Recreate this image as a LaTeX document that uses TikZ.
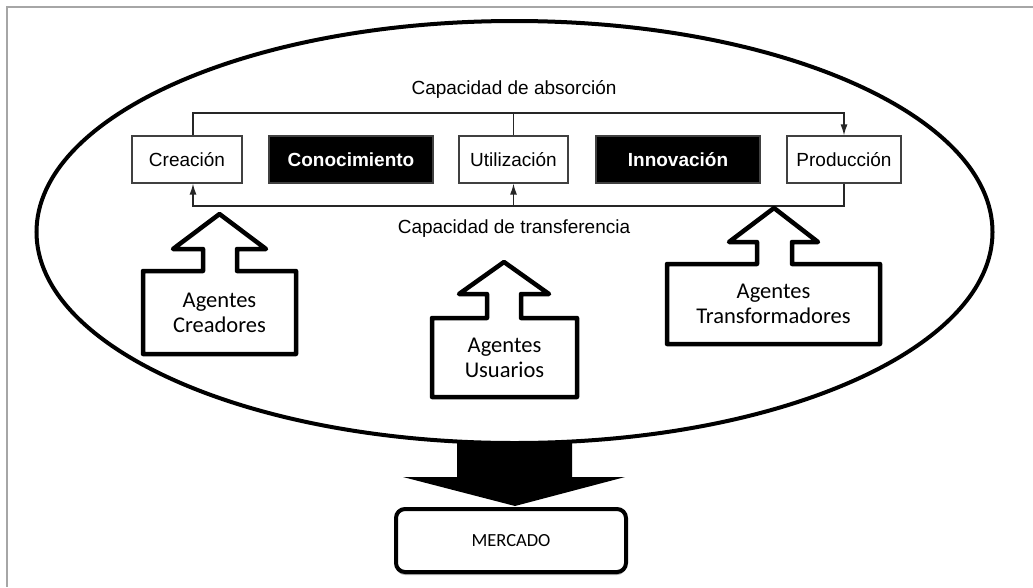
\documentclass[tikz,border=0pt]{standalone}
\usepackage{fontspec}
\setmainfont{Liberation Sans}
\newfontfamily\calib{Carlito}
\usetikzlibrary{arrows.meta,shadows}
\begin{document}
\begin{tikzpicture}[x=1pt,y=-1pt,
  frameline/.style={draw=gray!70,line width=1.5pt},
  stagebox/.style={draw=black!75,line width=1.2pt,fill=white,minimum height=47pt,inner sep=0pt,font=\fontsize{19}{22}\selectfont},
  darkbox/.style={draw=black!75,line width=1.2pt,fill=black,text=white,minimum height=47pt,inner sep=0pt,font=\fontsize{19}{22}\selectfont\bfseries},
  conn/.style={draw=black!85,line width=1.4pt},
  tip/.style={-{Latex[length=11pt,width=7pt]}},
  caplabel/.style={font=\fontsize{19}{22}\selectfont},
  blockarrow/.style={draw=black,line width=4.5pt,line join=round,fill=white},
  agenttext/.style={font=\calib\fontsize{22.5}{25}\selectfont,align=center},
]
\useasboundingbox (0,0) rectangle (1033,587);
\fill[white] (0,0) rectangle (1033,587);
% frame (top and left edges)
\draw[frameline] (1033,7) -- (7,7) -- (7,587);

% big down arrow to market
\fill[black] (457,440) -- (572,440) -- (572,477) -- (625,477) -- (515,506) -- (403,477) -- (457,477) -- cycle;

% ellipse
\draw[line width=4pt,fill=white] (514.5,232) ellipse [x radius=478pt, y radius=211pt];

% stage boxes
\node[stagebox,minimum width=110pt] (cre) at (187,159.5) {Creación};
\node[darkbox,minimum width=164pt] (con) at (351,159.5) {Conocimiento};
\node[stagebox,minimum width=109pt] (uti) at (513.5,159.5) {Utilización};
\node[darkbox,minimum width=164pt] (inn) at (678,159.5) {Innovación};
\node[stagebox,minimum width=114pt] (pro) at (844,159.5) {Producción};

% absorption loop
\coordinate (ta) at (193,113);
\coordinate (ba) at (193,206);
\draw[conn,tip] (cre.north -| ta) -- (ta) -| (pro.north);
\draw[conn] (uti.north) -- (uti.north |- ta);
\node[caplabel] (abs) at (514,89) {Capacidad de absorción};

% transfer loop
\draw[conn,tip] (pro.south) |- (ba) -- (cre.south -| ba);
\draw[conn,tip] (uti.south |- ba) -- (uti.south);
\node[caplabel] (tra) at (514,229) {Capacidad de transferencia};

% block arrows with agents
\draw[blockarrow] (143,271) -- (203,271) -- (203,249) -- (173,249) -- (219.5,214) -- (266,249) -- (237,249) -- (237,271) -- (296,271) -- (296,354) -- (143,354) -- cycle;
\node[agenttext] (acre) at (219.5,313) {Agentes\\Creadores};

\draw[blockarrow] (432,318) -- (487,318) -- (487,294) -- (459,294) -- (504,262) -- (549,294) -- (521,294) -- (521,318) -- (577,318) -- (577,397) -- (432,397) -- cycle;
\node[agenttext] (ausu) at (504.5,358) {Agentes\\Usuarios};

\draw[blockarrow] (667,264) -- (757,264) -- (757,242) -- (729,242) -- (774,208) -- (818,242) -- (792,242) -- (792,264) -- (880,264) -- (880,344) -- (667,344) -- cycle;
\node[agenttext] (atra) at (773.5,304) {Agentes\\Transformadores};

% market
\node[draw=black,line width=4pt,rounded corners=9pt,fill=white,minimum width=230pt,minimum height=63pt,
      drop shadow={shadow xshift=0pt,shadow yshift=-3pt,opacity=0.6},
      font=\calib\fontsize{18.5}{22}\selectfont] (mer) at (511,540.5) {MERCADO};
\end{tikzpicture}
\end{document}
